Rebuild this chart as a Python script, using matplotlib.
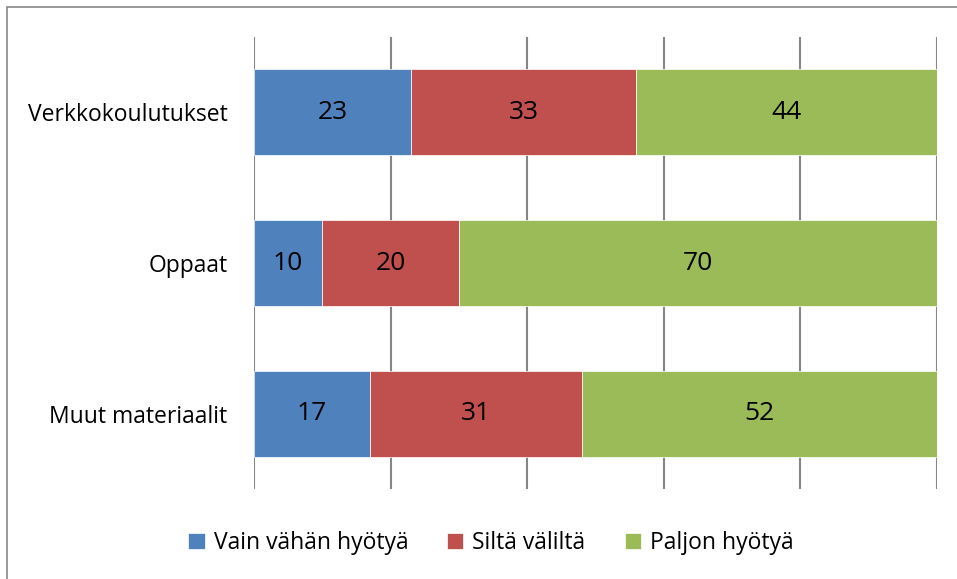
import pandas as pd
import matplotlib.pyplot as plt
from matplotlib.patches import Rectangle

df=pd.DataFrame({"Aineisto":["Verkkokoulutukset","Oppaat","Muut materiaalit"],
                 "Vain vähän hyötyä":[23,10,17],
                 "Siltä väliltä":[33,20,31],
                 "Paljon hyötyä":[44,70,52]})
print(df)
colors=["#4F81BD","#C0504D","#9BBB59"]

plt.rcParams["font.family"]=["Open Sans","DejaVu Sans"]
fig=plt.figure(figsize=(9.57,5.79),dpi=100)
fig.patches.append(Rectangle((7/957,-0.1),1.2,1-7/579+0.1,transform=fig.transFigure,fill=False,edgecolor="#888888",linewidth=1.2))
ax=plt.axes([254/957,1-489/579,(937-254)/957,(489-37)/579])
left=[0,0,0]
for col,c in zip(df.columns[1:],colors):
    plt.barh(df["Aineisto"],df[col],left=left,height=0.57,color=c,label=col,edgecolor="white",linewidth=0.5,zorder=2)
    for i,v in enumerate(df[col]):
        plt.text(left[i]+v/2,i,str(v),ha="center",va="center",fontsize=19,color="black",zorder=3)
    left=[l+v for l,v in zip(left,df[col])]
plt.xlim(0,100)
plt.ylim(2.5,-0.5)
plt.xticks([0,20,40,60,80,100],[])
plt.grid(axis="x",color="#868686",linewidth=1.5,zorder=0)
plt.tick_params(axis="both",length=0,labelsize=16.5,pad=19)
for s in ax.spines.values():
    s.set_visible(False)
fig.legend(loc="center",bbox_to_anchor=(0.513,0.062),ncol=3,frameon=False,fontsize=16.5,handlelength=0.7,handleheight=0.7,handletextpad=0.4,columnspacing=1.7)
plt.savefig("out.png")
